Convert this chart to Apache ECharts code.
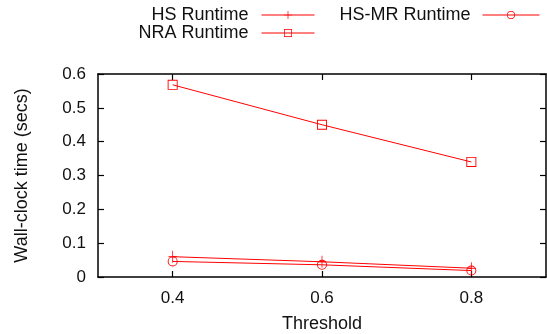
<!DOCTYPE html>
<html><head><meta charset="utf-8">
<script src="https://cdn.jsdelivr.net/npm/echarts@6/dist/echarts.min.js"></script>
<style>html,body{margin:0;padding:0;background:#fff}#c{width:547px;height:334px}</style>
</head><body><div id="c"></div>
<script>
var thresholds = [0.4, 0.6, 0.8];
var hsRuntime = [0.060, 0.045, 0.026];
var hsmrRuntime = [0.046, 0.036, 0.019];
var nraRuntime = [0.568, 0.450, 0.340];
var xTicks = [0.4, 0.6, 0.8];
var yTicks = [0, 0.1, 0.2, 0.3, 0.4, 0.5, 0.6];

function pairs(v){ return thresholds.map(function(t,i){ return [t, v[i]]; }); }
var font = 'Liberation Sans, Arial, sans-serif';
var plus = 'path://M4.55,0h0.9v12h-0.9zM0,5.55h10v0.9h-10z';
var square = 'path://M0,0h10v10h-10zM0.9,0.9v8.2h8.2v-8.2z';
var ring = 'path://M5,0A5,5 0 1 1 5,10A5,5 0 1 1 5,0ZM5,0.9A4.1,4.1 0 1 0 5,9.1A4.1,4.1 0 1 0 5,0.9Z';
var base = {type:'line', lineStyle:{color:'#ff0000', width:1}, itemStyle:{color:'#ff0000', borderWidth:0}, color:'#ff0000', symbolKeepAspect:true, animation:false, z:3};
var chart = echarts.init(document.getElementById('c'));
var xa = {type:'value', min:0.3, max:0.9, splitLine:{show:false}, axisLine:{show:true, onZero:false, lineStyle:{color:'#000', width:1.5}},
  axisTick:{inside:true, length:6, customValues:xTicks, lineStyle:{color:'#000', width:1.2}},
  axisLabel:{customValues:xTicks, color:'#111', fontSize:17, fontFamily:font, margin:13, formatter:function(v){return v.toFixed(1);}}};
var ya = {type:'value', min:0, max:0.6, interval:0.1, splitLine:{show:false}, axisLine:{show:true, lineStyle:{color:'#000', width:1.5}},
  axisTick:{inside:true, length:6, lineStyle:{color:'#000', width:1.2}},
  axisLabel:{color:'#111', fontSize:17, fontFamily:font, margin:12, formatter:function(v){return v===0?'0':v.toFixed(1);}}};
var legText = {fontSize:18, fontFamily:font, color:'#111', lineHeight:18, padding:[0,8,0,0]};
chart.setOption({
  animation:false,
  grid:{left:98, right:1, top:74, bottom:57, containLabel:false, outerBoundsMode:'none'},
  legend:[
    {data:['HS Runtime','NRA Runtime'], orient:'vertical', right:227, top:1, align:'right', itemGap:0, itemWidth:53, itemHeight:10,
     lineStyle:{width:1},
     textStyle:Object.assign({}, legText, {width:130, align:'right'})},
    {data:['HS-MR Runtime'], orient:'vertical', right:2, top:1, align:'right', itemWidth:57, itemHeight:10,
     lineStyle:{width:1},
     textStyle:Object.assign({}, legText, {padding:[0,7,0,0]})}
  ],
  xAxis:[Object.assign({}, xa, {position:'bottom', name:'Threshold', nameLocation:'middle', nameGap:38, nameTextStyle:{fontSize:18, fontFamily:font, color:'#111'}}),
         Object.assign({}, xa, {position:'top', axisLabel:{show:false}})],
  yAxis:[Object.assign({}, ya, {position:'left', name:'Wall-clock time (secs)', nameLocation:'middle', nameGap:67, nameTextStyle:{fontSize:18, fontFamily:font, color:'#111'}}),
         Object.assign({}, ya, {position:'right', axisLabel:{show:false}})],
  series:[
    Object.assign({}, base, {name:'HS Runtime', data:pairs(hsRuntime), symbol:plus, symbolSize:[10,12]}),
    Object.assign({}, base, {name:'HS-MR Runtime', data:pairs(hsmrRuntime), symbol:ring, symbolSize:10}),
    Object.assign({}, base, {name:'NRA Runtime', data:pairs(nraRuntime), symbol:square, symbolSize:10})
  ]
});
</script></body></html>
